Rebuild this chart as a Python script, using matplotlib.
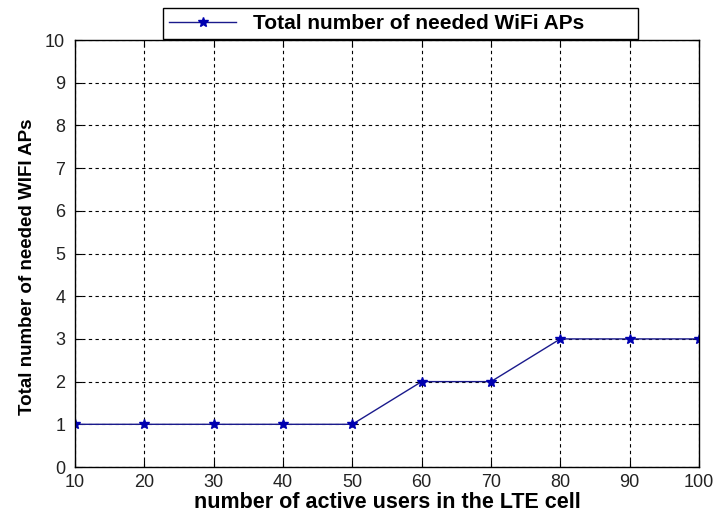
import matplotlib
matplotlib.use("Agg")
import matplotlib.pyplot as plt

# data
users = [10, 20, 30, 40, 50, 60, 70, 80, 90, 100]
needed_aps = [1, 1, 1, 1, 1, 2, 2, 3, 3, 3]
yticks = list(range(0, 11))

plt.rcParams['font.family'] = ['Liberation Sans', 'DejaVu Sans']

fig = plt.figure(figsize=(7.16, 5.15), dpi=100)
ax = fig.add_axes([0.1047, 0.0932, 0.8716, 0.8291])

ax.plot(users, needed_aps, color='#1a1a8c', lw=1.0, marker='*',
        markersize=7, markeredgecolor='#0000b0', markerfacecolor='#0000b0',
        label='Total number of needed WiFi APs')

ax.set_xlim(10, 100)
ax.set_ylim(0, 10)
ax.set_xticks(users)
ax.set_yticks(yticks)
ax.tick_params(direction='in', labelsize=13, colors='black', length=5,
               top=True, right=True, labelcolor='#222222')
ax.tick_params(axis='x', pad=5)
ax.tick_params(axis='y', pad=7)
ax.grid(True, color='black', linestyle=(0, (3, 3)), linewidth=0.8)
for s in ax.spines.values():
    s.set_linewidth(1.0)

ax.set_xlabel('number of active users in the LTE cell', fontsize=15.5,
              fontweight='bold', labelpad=1)
ax.set_ylabel('Total number of needed WIFI APs', fontsize=13.5,
              fontweight='bold')
ax.yaxis.set_label_coords(-0.062, 0.47)

leg = ax.legend(loc='lower left', bbox_to_anchor=(0.2277, 0.924, 0.663, 0.062),
                bbox_transform=fig.transFigure, mode='expand', handlelength=3.2,
                fancybox=False, framealpha=1, edgecolor='black',
                borderaxespad=0, borderpad=0.3,
                prop={'weight': 'bold', 'size': 15})
leg.get_frame().set_linewidth(1.0)

fig.savefig('out.png', dpi=100)
